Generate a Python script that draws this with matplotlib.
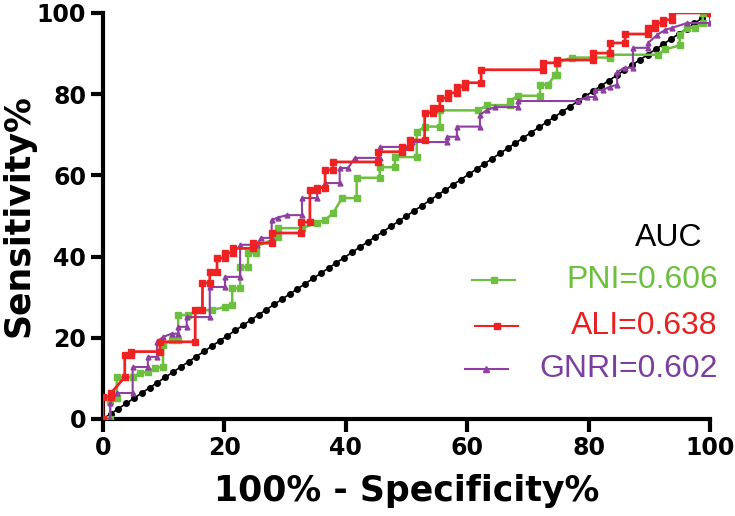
import numpy as np
import matplotlib
matplotlib.use("Agg")
import matplotlib.pyplot as plt

plt.rcParams['font.family'] = ['Liberation Sans', 'DejaVu Sans']

# ROC curve vertices (100% - specificity, sensitivity)
pni_x = [0, 1.2, 1.2, 2.3, 2.3, 4.9, 6.1, 7.4, 8.6, 9.9, 9.9, 11.3, 12.4, 12.4, 14.0, 16.0,
         17.9, 20.1, 21.3, 21.3, 22.6, 22.6, 23.9, 23.9, 25.2, 25.2, 28.8, 28.8, 32.8, 35.3,
         36.6, 37.9, 39.4, 41.8, 41.8, 45.6, 45.6, 48.1, 48.1, 51.7, 51.7, 53.0, 55.5, 55.5,
         61.8, 63.3, 67.0, 67.0, 68.4, 72.0, 72.0, 73.3, 74.5, 74.8, 74.8, 77.3, 83.5, 83.5,
         91.4, 92.6, 95.0, 95.0, 96.2, 97.5, 98.8, 98.8, 100]
pni_y = [0, 0, 4.4, 5.2, 10.3, 10.3, 11.3, 11.6, 12.6, 12.8, 18.2, 19.5, 19.5, 25.6, 25.6, 26.8,
         26.8, 27.6, 28.1, 32.2, 32.2, 37.4, 37.4, 40.9, 40.9, 42.4, 44.8, 47.0, 47.0, 48.3,
         49.0, 50.7, 54.4, 54.4, 59.4, 59.4, 62.0, 62.0, 64.5, 64.5, 70.7, 72.0, 72.0, 76.0,
         76.0, 77.3, 77.3, 78.3, 79.6, 79.6, 82.3, 82.3, 84.7, 84.7, 87.7, 89.0, 89.0, 89.7,
         89.7, 91.0, 92.0, 94.6, 96.3, 96.3, 97.5, 100, 100]

ali_x = [0, 0, 1.4, 1.4, 3.6, 3.6, 4.7, 4.7, 9.4, 9.4, 15.2, 15.2, 16.4, 16.4, 17.6, 17.6,
         18.8, 18.8, 20.1, 20.1, 21.4, 21.4, 24.7, 24.7, 27.8, 27.8, 32.6, 32.6, 34.1, 34.1,
         35.3, 35.3, 36.6, 36.6, 37.9, 37.9, 45.3, 45.3, 49.3, 49.3, 50.6, 50.6, 53.0, 53.0,
         54.3, 54.3, 55.5, 55.5, 56.8, 56.8, 58.3, 58.3, 59.6, 59.6, 62.3, 62.3, 72.5, 72.5,
         74.8, 74.8, 80.7, 80.7, 83.5, 83.5, 86.0, 86.0, 89.8, 89.8, 91.0, 91.0, 92.3, 92.3,
         93.7, 93.7, 100]
ali_y = [0, 5.5, 5.5, 6.5, 10.3, 15.8, 15.8, 16.6, 16.6, 19.0, 19.0, 26.8, 26.8, 33.5, 33.5,
         36.2, 36.2, 39.6, 39.6, 40.9, 40.9, 42.0, 42.0, 43.3, 43.3, 45.8, 45.8, 48.5, 48.5,
         56.4, 56.4, 57.0, 57.0, 61.3, 61.3, 63.3, 63.3, 65.8, 65.8, 67.0, 67.0, 68.7, 68.7,
         75.4, 75.4, 76.6, 76.6, 79.0, 79.0, 80.3, 80.3, 81.8, 81.8, 82.8, 82.8, 86.0, 86.0,
         87.7, 87.7, 88.4, 88.4, 90.1, 90.1, 92.6, 92.6, 94.8, 94.8, 96.3, 96.3, 97.5, 97.5,
         98.3, 98.3, 100, 100]

gnri_x = [0, 1.2, 1.2, 2.3, 4.9, 4.9, 7.4, 7.4, 8.9, 8.9, 9.9, 11.3, 12.4, 12.4, 13.8, 13.8,
          17.6, 17.6, 20.1, 20.1, 22.6, 22.6, 25.4, 26.0, 27.8, 27.8, 28.8, 30.3, 32.8, 32.8,
          35.3, 35.3, 36.6, 36.6, 39.0, 39.0, 40.4, 41.5, 45.6, 45.6, 50.2, 50.9, 56.7, 56.7,
          58.3, 58.3, 62.1, 62.1, 63.3, 64.6, 68.4, 68.4, 78.3, 79.7, 81.0, 81.0, 82.3, 83.5,
          84.7, 84.7, 86.0, 87.3, 87.3, 89.8, 89.8, 91.3, 92.6, 93.7, 96.2, 100, 100]
gnri_y = [0, 0, 4.0, 6.4, 6.4, 12.8, 12.8, 15.3, 15.3, 19.0, 20.2, 21.0, 21.0, 22.7, 22.7,
          25.1, 25.1, 32.5, 32.5, 35.0, 35.0, 42.9, 42.9, 44.6, 44.6, 49.0, 49.6, 50.2, 50.2,
          54.4, 54.4, 56.9, 56.9, 58.1, 58.1, 61.8, 61.8, 64.3, 64.3, 67.0, 67.0, 68.2, 68.2,
          69.5, 69.5, 72.0, 72.0, 74.9, 76.1, 76.8, 76.8, 78.3, 78.3, 79.3, 79.3, 81.0, 81.0,
          81.8, 82.3, 85.5, 86.5, 86.5, 91.4, 91.4, 92.6, 94.6, 95.8, 96.3, 97.5, 97.5, 100]

labels = ["PNI", "ALI", "GNRI"]
aucs = [0.606, 0.638, 0.602]
colors = ["#6cbf3f", "#ee2222", "#8e3fa0"]
text_colors = ["#6cbf3f", "#e82020", "#7b3f9e"]
ticks = [0, 20, 40, 60, 80, 100]

# chance line (identity), drawn with dots like the original
diag = np.linspace(0, 100, 79)

fig = plt.figure(figsize=(7.35, 5.16), dpi=100)
ax = fig.add_axes([0.140, 0.188, 0.826, 0.787])

ax.plot(diag, diag, color="black", lw=1.2, marker="o", ms=4, zorder=2)
ax.plot(pni_x, pni_y, color=colors[0], lw=1.8, marker="s", ms=4.5, zorder=3)
ax.plot(gnri_x, gnri_y, color=colors[2], lw=1.5, marker="^", ms=3.5, zorder=4)
ax.plot(ali_x, ali_y, color=colors[1], lw=2.0, marker="s", ms=4.5, zorder=5)

ax.set_xlim(0, 100)
ax.set_ylim(0, 100)
ax.set_xticks(ticks)
ax.set_yticks(ticks)
ax.spines[['top', 'right']].set_visible(False)
for s in ['left', 'bottom']:
    ax.spines[s].set_linewidth(3)
ax.tick_params(width=3, length=9, pad=3)

# the original uses a wide bold face for the axis text
wide = ['DejaVu Sans']
ax.set_xticklabels([str(t) for t in ticks], fontsize=17, fontweight='bold', family=wide)
ax.set_yticklabels([str(t) for t in ticks], fontsize=17, fontweight='bold', family=wide)
ax.set_xlabel("100% - Specificity%", fontsize=25, fontweight='bold', family=wide,
              labelpad=10)
ax.set_ylabel("Sensitivity%", fontsize=25, fontweight='bold', family=wide, labelpad=1)

# hand-made legend
ax.text(0.987, 0.446, "AUC", transform=ax.transAxes, fontsize=23,
        ha="right", va="center", color="black")
handle_pos = [(0.608, 0.679, 0.342), (0.613, 0.684, 0.229), (0.596, 0.667, 0.123)]
markers = ["s", "s", "^"]
for (x0, x1, y), lab, auc, c, tc, m in zip(handle_pos, labels, aucs, colors, text_colors, markers):
    ax.plot([x0, x1], [y, y], color=c, lw=1.5, transform=ax.transAxes, clip_on=False)
    ax.plot([(x0 + x1) / 2], [y], color=c, marker=m, ms=4.5, transform=ax.transAxes,
            clip_on=False)
    ax.text(1.013, y, f"{lab}={auc:.3f}", transform=ax.transAxes, fontsize=23,
            ha="right", va="center", color=tc)

fig.savefig("out.png", dpi=100)
